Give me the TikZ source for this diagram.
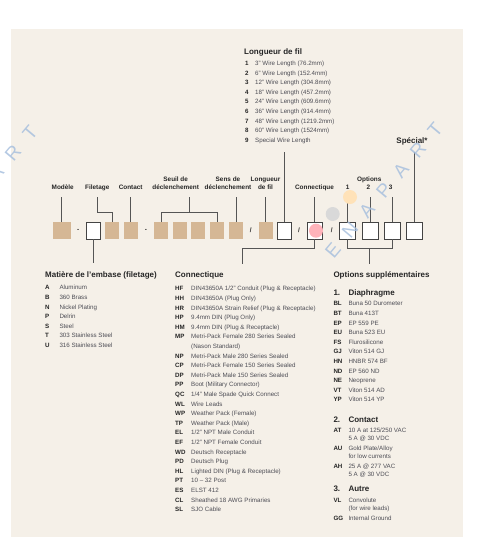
\documentclass[tikz,border=0pt]{standalone}
\usepackage{fontspec}
\setmainfont{Liberation Sans}
\usepackage{xcolor}
\definecolor{panel}{HTML}{F5F0E8}
\definecolor{tanfill}{HTML}{D5B795}
\definecolor{ink}{HTML}{262626}
\definecolor{itemgray}{HTML}{4D4D55}
\definecolor{linegray}{HTML}{555555}
\definecolor{boxline}{HTML}{444444}
\definecolor{peach}{HTML}{FFE2B8}
\definecolor{dotgray}{HTML}{D9D9D9}
\definecolor{dotpink}{HTML}{FFB3BA}
\definecolor{wmblue}{HTML}{A8C0DE}
\usepackage{array}
\usepackage{tikz}
\usetikzlibrary{positioning,calc}
\newcommand{\sechead}[1]{{\fontsize{8}{9.6}\selectfont\bfseries\color{ink}#1}}

\begin{document}
\begin{tikzpicture}[x=1pt,y=-1pt,
  node distance=4.3pt,
  tanbox/.style={fill=tanfill,minimum width=14pt,minimum height=17pt,inner sep=0pt},
  openbox/.style={fill=white,draw=boxline,line width=0.7pt,minimum width=14pt,minimum height=17pt,inner sep=0pt},
  lbl/.style={font=\fontsize{6.4}{8.4}\selectfont\bfseries,text=ink,align=center,inner sep=0pt,text depth=0pt,anchor=south},
  head/.style={font=\fontsize{8}{9.6}\selectfont\bfseries,text=ink,inner sep=0pt,anchor=base west},
  list/.style={font=\fontsize{6.2}{9.6}\selectfont,text=itemgray,inner sep=0pt,anchor=base west},
  sepmark/.style={font=\fontsize{6.4}{8}\selectfont\bfseries,text=ink,inner sep=0pt},
  wire/.style={draw=linegray,line width=0.7pt},
  stem/.style={wire,shorten >=7pt},
  blob/.style={circle,minimum size=14pt,inner sep=0pt},
  wmark/.style={font=\fontsize{19}{19}\selectfont,text=wmblue,rotate=50,inner sep=0pt,opacity=0.85}
]
\useasboundingbox (0,0) rectangle (500,539);
\fill[panel] (11,29) rectangle (463,537);

% code row
\node[tanbox,minimum width=18pt] (b1) at (61.7,230.5) {};
\node[sepmark] (d1) at (78.3,230.5) {-};
\node[openbox] (b2) at (93,230.5) {};
\node[tanbox] (b3) at (112,230.5) {};
\node[tanbox,right=of b3] (b4) {};
\node[sepmark] (d2) at (146,230.5) {-};
\node[tanbox] (b5) at (160.9,230.5) {};
\node[tanbox,right=of b5] (b6) {};
\node[tanbox,right=of b6] (b7) {};
\node[tanbox,right=of b7] (b8) {};
\node[tanbox,right=5pt of b8] (b9) {};
\node[sepmark] (s1) at (250.7,230.5) {/};
\node[tanbox] (b10) at (265.5,230.5) {};
\node[openbox,right=4pt of b10] (b11) {};
\node[sepmark] (s2) at (299,230.5) {/};
\node[openbox,minimum width=15pt] (b12) at (314.8,230.5) {};
\node[sepmark] (s3) at (331.7,230.5) {/};
\node[openbox,minimum width=16pt] (b13) at (347.5,230.5) {};
\node[openbox,minimum width=16pt,right=5.7pt of b13] (b14) {};
\node[openbox,minimum width=16pt,right=5.7pt of b14] (b15) {};
\node[openbox,minimum width=16pt,right=5.3pt of b15] (b16) {};

% labels above
\node[lbl] (modele) at (62.7,190) {Modèle};
\node[lbl] (filetage) at (97.3,190) {Filetage};
\node[lbl] (contact) at (130.7,190) {Contact};
\node[lbl] (seuil) at (175.7,190) {Seuil de\\déclenchement};
\node[lbl] (sens) at (228,190) {Sens de\\déclenchement};
\node[lbl] (longueur) at (265.5,190) {Longueur\\de fil};
\node[lbl] (connect) at (314.5,190) {Connectique};
\node[lbl] (options) at (369.3,181.6) {Options};
\node[lbl] (opt1) at (347.7,190) {1};
\node[lbl] (opt2) at (368.3,190) {2};
\node[lbl] (opt3) at (390.7,190) {3};
\node[lbl,font=\fontsize{8}{9.6}\selectfont\bfseries] (special) at (412,143.5) {Spécial*};

% wire length list
\node[head] (wirehead) at (244,54.6) {Longueur de fil};
\node[list] (wirelist) at (245,65.5) {\begin{tabular}[t]{@{}>{\bfseries\color{ink}}w{l}{10pt}@{}l@{}}
1 & 3" Wire Length (76.2mm)\\
2 & 6" Wire Length (152.4mm)\\
3 & 12" Wire Length (304.8mm)\\
4 & 18" Wire Length (457.2mm)\\
5 & 24" Wire Length (609.6mm)\\
6 & 36" Wire Length (914.4mm)\\
7 & 48" Wire Length (1219.2mm)\\
8 & 60" Wire Length (1524mm)\\
9 & Special Wire Length
\end{tabular}};

% stems above the row
\draw[stem] (b1.north) -- (b1.north |- modele.south);
\draw[wire] ([yshift=-7pt]filetage.south) |- ($(b3.north)+(0,-9.3)$) -- (b3.north);
\draw[stem] (b4.north) -- (b4.north |- contact.south);
\draw[wire] (b5.north) -- ++(0,-9.3) -| (b8.north);
\coordinate (seuilbar) at ($(b5.north)!0.5!(b8.north)+(0,-9.3)$);
\draw[stem] (seuilbar) -- (seuilbar |- seuil.south);
\draw[stem] (b9.north) -- (b9.north |- sens.south);
\draw[stem] (b10.north) -- (b10.north |- longueur.south);
\draw[stem] (b11.north) -- (b11.north |- wirelist.south);
\draw[stem] (b12.north) -- (b12.north |- connect.south);
\draw[stem] (b13.north) -- (b13.north |- opt1.south);
\draw[stem] (b14.north) -- (b14.north |- opt2.south);
\draw[stem] (b15.north) -- (b15.north |- opt3.south);
\draw[wire,shorten >=8.5pt] (b16.north) -- (b16.north |- special.south);

% headings below
\node[head] (matiere) at (45,277.8) {Matière de l'embase (filetage)};
\node[head] (connhead) at (175,277.8) {Connectique};
\node[head] (opthead) at (333.3,277.8) {Options supplémentaires};

% stems below the row
\draw[wire,shorten >=8.8pt] (b2.south) -- (b2.south |- matiere.north);
\coordinate (connfoot) at (242.7,264);
\draw[wire] (b12.south) -- ++(0,9.3) -| (connfoot);
\draw[wire] (b13.south) -- ++(0,9.3) coordinate (optbar) -| (b15.south);
\coordinate (optfoot) at (369.2,264);
\draw[wire] (optfoot |- optbar) -- (optfoot);

\node[list] (matlist) at (45,289.8) {\begin{tabular}[t]{@{}>{\bfseries\color{ink}}w{l}{14.3pt}@{}l@{}}
A & Aluminum\\
B & 360 Brass\\
N & Nickel Plating\\
P & Delrin\\
S & Steel\\
T & 303 Stainless Steel\\
U & 316 Stainless Steel
\end{tabular}};

\node[list] (connlist) at (175,290.9) {\begin{tabular}[t]{@{}>{\bfseries\color{ink}}w{l}{16pt}@{}l@{}}
HF & DIN43650A 1/2" Conduit (Plug \& Receptacle)\\
HH & DIN43650A (Plug Only)\\
HR & DIN43650A Strain Relief (Plug \& Receptacle)\\
HP & 9.4mm DIN (Plug Only)\\
HM & 9.4mm DIN (Plug \& Receptacle)\\
MP & Metri-Pack Female 280 Series Sealed\\
 & (Nason Standard)\\
NP & Metri-Pack Male 280 Series Sealed\\
CP & Metri-Pack Female 150 Series Sealed\\
DP & Metri-Pack Male 150 Series Sealed\\
PP & Boot (Military Connector)\\
QC & 1/4" Male Spade Quick Connect\\
WL & Wire Leads\\
WP & Weather Pack (Female)\\
TP & Weather Pack (Male)\\
EL & 1/2" NPT Male Conduit\\
EF & 1/2" NPT Female Conduit\\
WD & Deutsch Receptacle\\
PD & Deutsch Plug\\
HL & Lighted DIN (Plug \& Receptacle)\\
PT & 10 -- 32 Post\\
ES & ELST 412\\
CL & Sheathed 18 AWG Primaries\\
SL & SJO Cable
\end{tabular}};

\node[list] (optlist) at (333.3,295.6) {\begin{tabular}[t]{@{}>{\bfseries\color{ink}}w{l}{15pt}@{}l@{}}
\sechead{1.} & \sechead{Diaphragme}\\[0.7pt]
BL & Buna 50 Durometer\\
BT & Buna 413T\\
EP & EP 559 PE\\
EU & Buna 523 EU\\
FS & Flurosilicone\\
GJ & Viton 514 GJ\\
HN & HNBR 574 BF\\
ND & EP 560 ND\\
NE & Neoprene\\
VT & Viton 514 AD\\
YP & Viton 514 YP\\[10.7pt]
\sechead{2.} & \sechead{Contact}\\[0.4pt]
AT & 10 A at 125/250 VAC\\[-1.6pt]
 & 5 A @ 30 VDC\\[0.6pt]
AU & Gold Plate/Alloy\\[-1.6pt]
 & for low currents\\[0.6pt]
AH & 25 A @ 277 VAC\\[-1.6pt]
 & 5 A @ 30 VDC\\[5.4pt]
\sechead{3.} & \sechead{Autre}\\[1.4pt]
VL & Convolute\\[-1.6pt]
 & (for wire leads)\\
GG & Internal Ground
\end{tabular}};

% marks
\node[blob,fill=peach] (dot1) at (350,197) {};
\node[blob,fill=dotgray] (dot2) at (332.7,214) {};
\node[blob,fill=dotpink] (dot3) at (316,230.7) {};

% watermark
\foreach \ch [count=\i from 0] in {E,N,A,P,A,R,T} {
  \node[wmark] (wr\i) at ($(333,250)+\i*(17,-20)$) {\ch};
  \node[wmark] (wl\i) at ($(-72,253)+\i*(17,-20)$) {\ch};
}
\end{tikzpicture}
\end{document}
